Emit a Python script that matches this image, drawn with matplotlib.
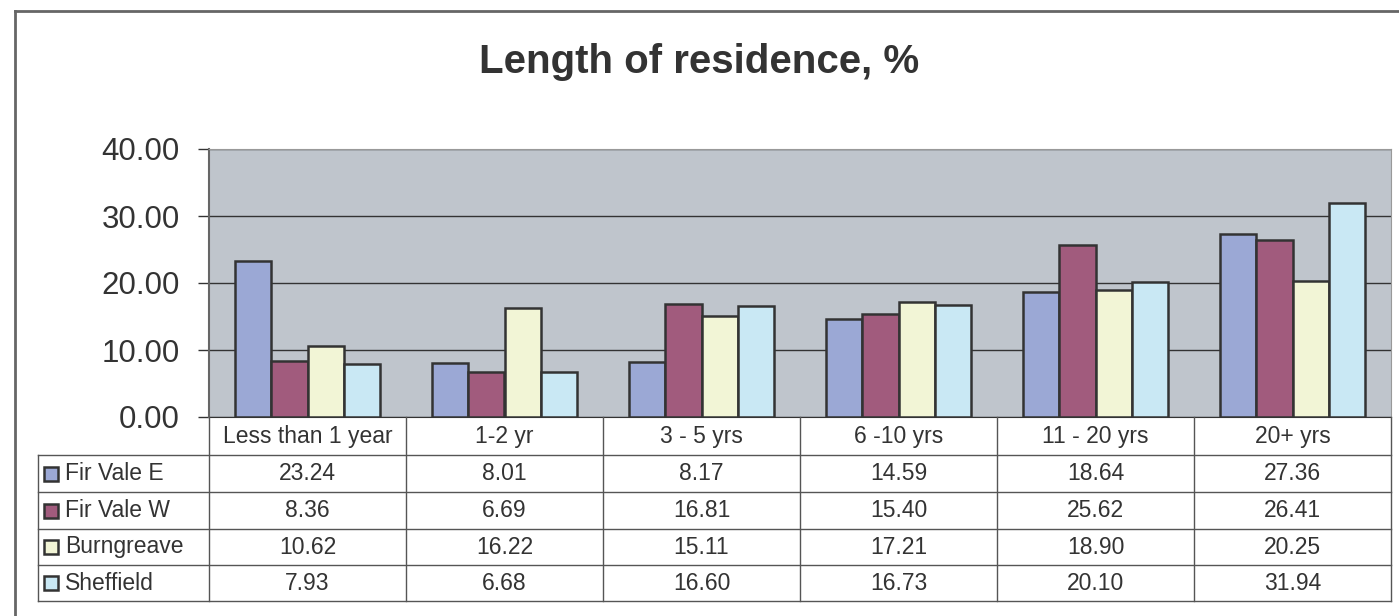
import matplotlib.pyplot as plt
import numpy as np
from matplotlib.patches import Rectangle

plt.rcParams['font.family'] = ['Liberation Sans', 'DejaVu Sans']

categories = ['Less than 1 year', '1-2 yr', '3 - 5 yrs', '6 -10 yrs', '11 - 20 yrs', '20+ yrs']
series = ['Fir Vale E', 'Fir Vale W', 'Burngreave', 'Sheffield']
fir_vale_e = [23.24, 8.01, 8.17, 14.59, 18.64, 27.36]
fir_vale_w = [8.36, 6.69, 16.81, 15.40, 25.62, 26.41]
burngreave = [10.62, 16.22, 15.11, 17.21, 18.90, 20.25]
sheffield = [7.93, 6.68, 16.60, 16.73, 20.10, 31.94]
values = [fir_vale_e, fir_vale_w, burngreave, sheffield]
colors = ['#9ba8d5', '#a15b7d', '#f2f5d6', '#c9e8f4']

W, H = 1399, 616
fig = plt.figure(figsize=(W / 100, H / 100), dpi=100)

def fx(x):
    return x / W

def fy(y):
    return 1 - y / H

# plot area in pixel coords
L, R, T, B = 209, 1391, 149, 417
ax = fig.add_axes([fx(L), fy(B), fx(R) - fx(L), fy(T) - fy(B)])
ax.set_facecolor('#bfc5cc')

n = len(categories)
x = np.arange(n)
bw = 0.183
for i, (vals, c) in enumerate(zip(values, colors)):
    ax.bar(x + (i - 1.5) * bw, vals, width=bw, color=c, edgecolor='#333333',
           linewidth=1.8, zorder=3)

ax.set_xlim(-0.5, n - 0.5)
ax.set_ylim(0, 40)
ax.set_yticks([0, 10, 20, 30, 40])
ax.set_yticklabels(['0.00', '10.00', '20.00', '30.00', '40.00'])
ax.tick_params(axis='y', labelsize=22.5, length=8, width=1, color='#333333',
               labelcolor='#333333', pad=13)
ax.set_xticks([])
ax.grid(axis='y', color='#333333', linewidth=1, zorder=1)
for s in ['top', 'right']:
    ax.spines[s].set_color('#999999')
ax.spines['left'].set_color('#666666')
ax.spines['left'].set_linewidth(1.5)
ax.spines['bottom'].set_color('#333333')

fig.text(0.5, fy(73), 'Length of residence, %', ha='center', va='baseline',
         fontsize=29, fontweight='bold', color='#333333')

# outer chart frame
fig.add_artist(plt.Line2D([fx(15), fx(15)], [fy(11), 0], color='#666666', lw=2))
fig.add_artist(plt.Line2D([fx(15), 1], [fy(11), fy(11)], color='#666666', lw=2))

# data table
lc = '#555555'
tl = 38
rows = [417, 455, 492, 529, 565, 601]
col_w = (R - L) / n
fs = 16.5
for k in range(n + 1):
    xx = L + k * col_w
    fig.add_artist(plt.Line2D([fx(xx), fx(xx)], [fy(rows[0]), fy(rows[-1])], color=lc, lw=1))
fig.add_artist(plt.Line2D([fx(tl), fx(tl)], [fy(rows[1]), fy(rows[-1])], color=lc, lw=1))
for j, yy in enumerate(rows[1:]):
    fig.add_artist(plt.Line2D([fx(tl), fx(R)], [fy(yy), fy(yy)], color=lc, lw=1))

for k, cat in enumerate(categories):
    fig.text(fx(L + (k + 0.5) * col_w), fy((rows[0] + rows[1]) / 2), cat,
             ha='center', va='center', fontsize=fs, color='#333333')

for j, (name, vals, c) in enumerate(zip(series, values, colors)):
    yc = (rows[j + 1] + rows[j + 2]) / 2
    fig.add_artist(Rectangle((fx(44), fy(yc + 7)), fx(14), 14 / H, facecolor=c,
                             edgecolor='#333333', lw=1.8, transform=fig.transFigure))
    fig.text(fx(65), fy(yc), name, ha='left', va='center', fontsize=fs, color='#333333')
    for k, v in enumerate(vals):
        fig.text(fx(L + (k + 0.5) * col_w), fy(yc), f'{v:.2f}', ha='center',
                 va='center', fontsize=fs, color='#333333')

fig.savefig('out.png', dpi=100)
